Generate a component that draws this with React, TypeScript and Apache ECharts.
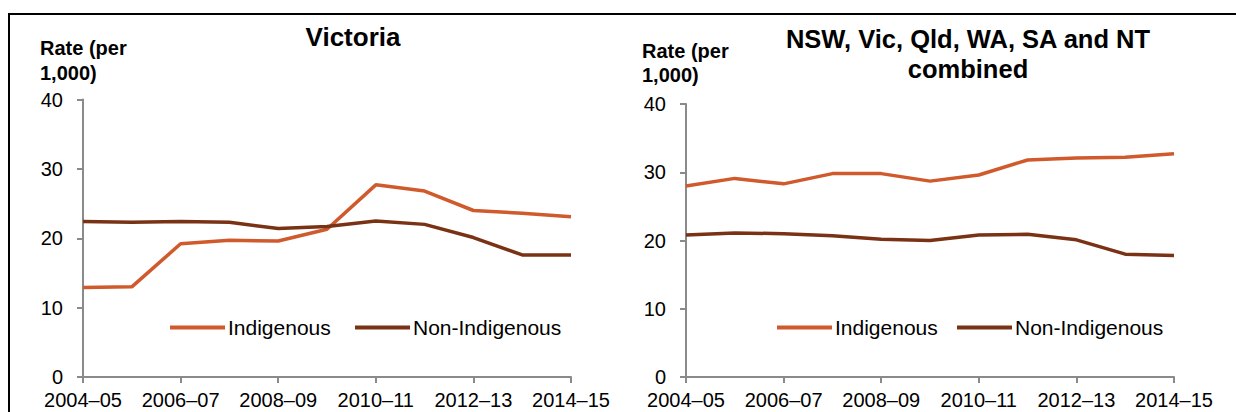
import React, { useEffect, useRef } from "react";
import * as echarts from "echarts";

const categories = [
  "2004–05", "2005–06", "2006–07", "2007–08", "2008–09", "2009–10",
  "2010–11", "2011–12", "2012–13", "2013–14", "2014–15",
];

const vicIndigenous = [12.9, 13.0, 19.2, 19.7, 19.6, 21.3, 27.7, 26.8, 24.0, 23.6, 23.1];
const vicNonIndigenous = [22.4, 22.3, 22.4, 22.3, 21.4, 21.7, 22.5, 22.0, 20.1, 17.6, 17.6];

const combIndigenous = [28.0, 29.1, 28.3, 29.8, 29.8, 28.7, 29.6, 31.8, 32.1, 32.2, 32.7];
const combNonIndigenous = [20.8, 21.1, 21.0, 20.7, 20.2, 20.0, 20.8, 20.9, 20.1, 18.0, 17.8];

const yTicks = [0, 10, 20, 30, 40];
const seriesNames = ["Indigenous", "Non-Indigenous"];
const titles = ["Victoria", "NSW, Vic, Qld, WA, SA and NT", "combined"];
const yAxisTitle = ["Rate (per", "1,000)"];

const ORANGE = "#D05A2C";
const BROWN = "#7A3215";
const AXIS = "#8A8A8A";
const FONT = "'Liberation Sans', Arial, sans-serif";

export default function App() {
  const ref = useRef<HTMLDivElement>(null);

  useEffect(() => {
    if (!ref.current) return;
    const chart = echarts.init(ref.current, undefined, { renderer: "svg" });

    const xAxisBase = (gridIndex: number) => ({
      type: "category",
      gridIndex,
      data: categories,
      boundaryGap: false,
      axisLine: { lineStyle: { color: AXIS, width: 2 } },
      axisTick: { show: true, interval: 1, length: 6, lineStyle: { color: AXIS, width: 2 } },
      axisLabel: {
        interval: 1,
        margin: 13,
        color: "#000",
        fontSize: 20,
        fontFamily: FONT,
      },
      splitLine: { show: false },
    });

    const yAxisBase = (gridIndex: number) => ({
      type: "value",
      gridIndex,
      min: yTicks[0],
      max: yTicks[yTicks.length - 1],
      interval: 10,
      axisLine: { show: true, lineStyle: { color: AXIS, width: 2 } },
      axisTick: { show: true, length: 6, lineStyle: { color: AXIS, width: 2 } },
      axisLabel: {
        margin: 20,
        color: "#000",
        fontSize: 20,
        fontFamily: FONT,
      },
      splitLine: { show: false },
    });

    const lineSeries = (name: string, data: number[], color: string, idx: number) => ({
      name,
      type: "line",
      data,
      xAxisIndex: idx,
      yAxisIndex: idx,
      symbol: "none",
      showSymbol: false,
      color,
      lineStyle: { color, width: 3.5 },
      itemStyle: { color },
    });

    const legend = (name: string, left: number) => ({
      data: [name],
      left,
      top: 317,
      padding: 0,
      icon: "rect",
      itemWidth: 55,
      itemHeight: 4,
      selectedMode: false,
      textStyle: { color: "#000", fontSize: 21, fontFamily: FONT, padding: [0, 0, 0, -2] },
    });

    const boldText = (text: string, x: number, y: number, size: number, align: string) => ({
      type: "text",
      x,
      y,
      silent: true,
      style: {
        text,
        fill: "#000",
        fontSize: size,
        fontWeight: "bold",
        fontFamily: FONT,
        align,
        verticalAlign: "middle",
      },
    });

    chart.setOption({
      animation: false,
      backgroundColor: "#fff",
      grid: [
        { left: 83, top: 99.5, width: 488, height: 277.5 },
        { left: 686, top: 104, width: 488, height: 273 },
      ],
      xAxis: [xAxisBase(0), xAxisBase(1)],
      yAxis: [yAxisBase(0), yAxisBase(1)],
      legend: [
        legend(seriesNames[0], 170),
        legend(seriesNames[1], 355),
        legend(seriesNames[0], 777),
        legend(seriesNames[1], 957),
      ],
      series: [
        lineSeries(seriesNames[0], vicIndigenous, ORANGE, 0),
        lineSeries(seriesNames[1], vicNonIndigenous, BROWN, 0),
        lineSeries(seriesNames[0], combIndigenous, ORANGE, 1),
        lineSeries(seriesNames[1], combNonIndigenous, BROWN, 1),
      ],
      graphic: [
        {
          type: "rect",
          silent: true,
          z: -1,
          shape: { x: 9, y: 14, width: 1400, height: 600 },
          style: { fill: "none", stroke: "#000", lineWidth: 2 },
        },
        boldText(titles[0], 353, 37, 26, "center"),
        boldText(titles[1], 968, 39, 25.5, "center"),
        boldText(titles[2], 968, 69, 25.5, "center"),
        boldText(yAxisTitle[0], 40, 48, 20, "left"),
        boldText(yAxisTitle[1], 40, 72.5, 20, "left"),
        boldText(yAxisTitle[0], 642, 51, 20, "left"),
        boldText(yAxisTitle[1], 642, 75, 20, "left"),
      ],
    });

    return () => chart.dispose();
  }, []);

  return (
    <div
      ref={ref}
      style={{ position: "fixed", left: 0, top: 0, width: 1236, height: 412 }}
    />
  );
}
